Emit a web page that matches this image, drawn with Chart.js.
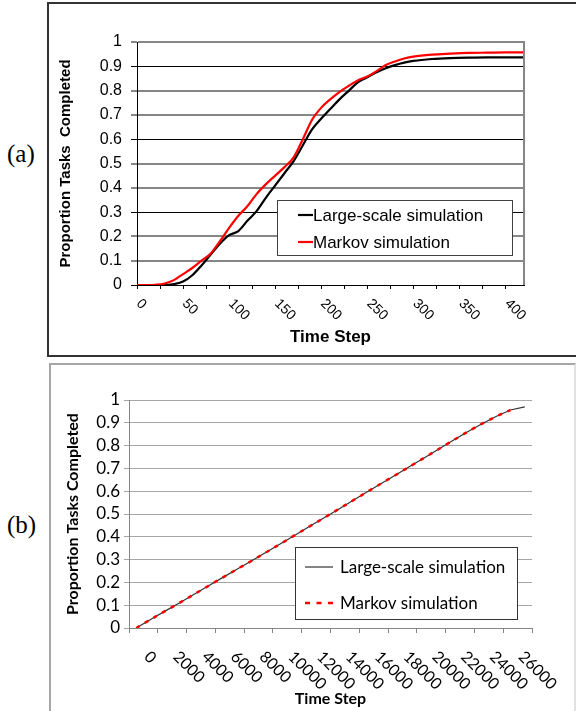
<!DOCTYPE html>
<html>
<head>
<meta charset="utf-8">
<script src="https://cdn.jsdelivr.net/npm/chart.js@4.4.1/dist/chart.umd.min.js"></script>
<style>
  html, body { margin: 0; padding: 0; background: #fff; }
  body { width: 576px; height: 711px; position: relative; overflow: hidden; }
  .frame { position: absolute; box-sizing: border-box; }
  #frameA { left: 47px; top: 2px; width: 560px; height: 355px; border: 2px solid #333; }
  #frameB { left: 49px; top: 363px; width: 527px; height: 400px; border: 2px solid #a6a6a6; border-right-color: #e2e2e2; }
  canvas { position: absolute; }
  #chartA { left: 50px; top: 5px; }
  #chartB { left: 51px; top: 365px; }
  .tag { position: absolute; left: 7px; font: 25px "Liberation Serif", "Times New Roman", serif; line-height: 25px; }
</style>
</head>
<body>
<div class="frame" id="frameA"></div>
<div class="frame" id="frameB"></div>
<div class="tag" style="top:141px">(a)</div>
<div class="tag" style="top:512px">(b)</div>
<canvas id="chartA" width="524" height="349"></canvas>
<canvas id="chartB" width="524" height="346"></canvas>
<script>
// Painel (a): passos de tempo e proporção de tarefas concluídas
const aSteps = [0, 10, 20, 30, 40, 50, 60, 70, 80, 90, 100, 110, 120, 130, 140, 150, 160, 170, 180, 190,
  200, 210, 220, 230, 240, 250, 260, 270, 280, 290, 300, 320, 340, 360, 380, 400, 420];
const aLarge = [0, 0, 0, 0, 0.004, 0.014, 0.04, 0.08, 0.125, 0.17, 0.205, 0.222, 0.265, 0.305, 0.36, 0.41, 0.46, 0.51, 0.575, 0.64,
  0.685, 0.725, 0.765, 0.80, 0.835, 0.855, 0.875, 0.892, 0.905, 0.915, 0.922, 0.93, 0.934, 0.936, 0.937, 0.937, 0.937];
const aMarkov = [0, 0, 0.001, 0.006, 0.02, 0.045, 0.07, 0.10, 0.13, 0.18, 0.235, 0.285, 0.325, 0.375, 0.415, 0.45, 0.485, 0.525, 0.60, 0.68,
  0.73, 0.765, 0.795, 0.82, 0.843, 0.858, 0.88, 0.905, 0.92, 0.932, 0.94, 0.948, 0.952, 0.955, 0.956, 0.957, 0.957];
const aTickLabels = [0, 50, 100, 150, 200, 250, 300, 350, 400];
const aTickMarks = [0, 25, 50, 75, 100, 125, 150, 175, 200, 225, 250, 275, 300, 325, 350, 375, 400];

// Painel (b): escala grande
const bSteps = [0, 1000, 2000, 3000, 4000, 5000, 6000, 7000, 8000, 9000, 10000, 11000, 12000, 13000,
  14000, 15000, 16000, 17000, 18000, 19000, 20000, 21000, 22000, 23000, 24000, 25000, 26000, 27000];
const bLarge = [0, 0.037, 0.074, 0.110, 0.147, 0.184, 0.221, 0.258, 0.294, 0.331, 0.368, 0.406, 0.444, 0.481,
  0.519, 0.557, 0.595, 0.633, 0.670, 0.708, 0.746, 0.784, 0.822, 0.860, 0.895, 0.928, 0.956, 0.970];
const bMarkov = [0, 0.037, 0.074, 0.110, 0.147, 0.184, 0.221, 0.258, 0.294, 0.331, 0.368, 0.406, 0.444, 0.481,
  0.519, 0.557, 0.595, 0.633, 0.670, 0.708, 0.746, 0.784, 0.822, 0.860, 0.895, 0.928, 0.956, null];
const bTickLabels = [0, 2000, 4000, 6000, 8000, 10000, 12000, 14000, 16000, 18000, 20000, 22000, 24000, 26000];
const bTickMarks = [-500, 1500, 3500, 5500, 7500, 9500, 11500, 13500, 15500, 17500, 19500, 21500, 23500, 25500, 27500];

// Eixo y comum aos dois painéis
const yTicks = [0, 0.1, 0.2, 0.3, 0.4, 0.5, 0.6, 0.7, 0.8, 0.9, 1];
const seriesNames = ['Large-scale simulation', 'Markov simulation'];

const ARIAL = '"Liberation Sans", Arial, sans-serif';
const CALIBRI = 'Lato, "Open Sans", sans-serif';

Chart.defaults.color = '#000';

function pts(xs, ys) {
  return xs.map((x, i) => ({ x: x, y: ys[i] }));
}

// Rótulos do eixo x inclinados 45° para baixo (como no Excel)
const slantTicks = {
  id: 'slantTicks',
  afterDraw(chart, args, opts) {
    const ctx = chart.ctx;
    const scale = chart.scales.x;
    ctx.save();
    ctx.font = opts.font;
    ctx.fillStyle = '#000';
    ctx.textAlign = 'left';
    ctx.textBaseline = 'middle';
    opts.values.forEach(v => {
      const px = scale.getPixelForValue(v);
      ctx.save();
      ctx.translate(px + opts.dx, scale.top + opts.dy);
      ctx.rotate(Math.PI / 4);
      ctx.fillText(String(v), 0, 0);
      ctx.restore();
    });
    ctx.restore();
  }
};

// Legenda em caixa dentro da área do gráfico
const boxLegend = {
  id: 'boxLegend',
  afterDatasetsDraw(chart, args, opts) {
    const ctx = chart.ctx;
    const area = chart.chartArea;
    const x = area.left + opts.x, y = area.top + opts.y;
    ctx.save();
    ctx.fillStyle = '#fff';
    ctx.fillRect(x, y, opts.w, opts.h);
    ctx.strokeStyle = opts.border;
    ctx.lineWidth = 1;
    ctx.strokeRect(x + 0.5, y + 0.5, opts.w - 1, opts.h - 1);
    ctx.font = opts.font;
    ctx.textBaseline = 'middle';
    ctx.textAlign = 'left';
    chart.data.datasets.forEach((ds, i) => {
      const ry = y + opts.rows[i];
      ctx.beginPath();
      ctx.strokeStyle = ds.borderColor;
      ctx.lineWidth = ds.borderWidth;
      ctx.setLineDash(opts.dash[i]);
      ctx.moveTo(x + opts.sample[0], ry);
      ctx.lineTo(x + opts.sample[1], ry);
      ctx.stroke();
      ctx.setLineDash([]);
      ctx.fillStyle = '#000';
      ctx.fillText(ds.label, x + opts.textX, ry + 1);
    });
    ctx.restore();
  }
};

// Borda direita da área de plotagem
const plotEdge = {
  id: 'plotEdge',
  afterDraw(chart, args, opts) {
    const ctx = chart.ctx;
    const a = chart.chartArea;
    ctx.save();
    ctx.strokeStyle = opts.color;
    ctx.lineWidth = opts.width;
    ctx.beginPath();
    ctx.moveTo(a.right, a.top - 1);
    ctx.lineTo(a.right, a.bottom);
    ctx.stroke();
    ctx.restore();
  }
};

// ---------- Gráfico (a) ----------
new Chart(document.getElementById('chartA'), {
  type: 'line',
  data: {
    datasets: [
      { label: seriesNames[0], data: pts(aSteps, aLarge), borderColor: '#000', borderWidth: 2.2,
        pointRadius: 0, cubicInterpolationMode: 'monotone', order: 2 },
      { label: seriesNames[1], data: pts(aSteps, aMarkov), borderColor: '#ff0000', borderWidth: 2.2,
        pointRadius: 0, cubicInterpolationMode: 'monotone', order: 1 }
    ]
  },
  options: {
    responsive: false,
    animation: false,
    devicePixelRatio: 1,
    layout: { padding: { left: 0, top: 37, right: 50, bottom: 0 } },
    plugins: {
      legend: { display: false },
      tooltip: { enabled: false },
      slantTicks: { values: aTickLabels, font: '14px ' + ARIAL, dx: 1.5, dy: 16.5 },
      boxLegend: { x: 140, y: 158, w: 236, h: 56, rows: [15, 42], sample: [21, 36], textX: 36,
        dash: [[], []], font: '17px ' + ARIAL, border: '#404040' },
      plotEdge: { color: '#868686', width: 2 }
    },
    scales: {
      x: {
        type: 'linear', min: 0, max: 420,
        afterBuildTicks: s => { s.ticks = aTickMarks.map(v => ({ value: v })); },
        afterFit: s => { s.height = 69; },
        grid: { drawOnChartArea: false, color: '#000', tickLength: 4 },
        border: { color: '#000', width: 1, dash: [1, 1] },
        ticks: { display: false, autoSkip: false },
        title: { display: true, text: 'Time Step', font: { family: ARIAL, size: 17, weight: 'bold' },
          padding: { top: 0, bottom: 6 } }
      },
      y: {
        type: 'linear', min: 0, max: 1,
        afterBuildTicks: s => { s.ticks = yTicks.map(v => ({ value: v })); },
        afterFit: s => { s.width = 87; },
        grid: {
          color: c => (c.index === 0 ? 'rgba(0,0,0,0)' : (c.index % 3 === 0 ? '#000' : '#868686')),
          tickColor: c => (c.index % 3 === 0 ? '#000' : '#868686'),
          lineWidth: c => (c.index % 3 === 0 ? 1 : 2),
          tickLength: 6
        },
        border: { color: '#000', width: 1 },
        ticks: { autoSkip: false, padding: 9, font: { family: ARIAL, size: 16 }, callback: v => String(v) },
        title: { display: true, text: 'Proportion Tasks  Completed',
          font: { family: ARIAL, size: 15, weight: 'bold' }, padding: { top: 7, bottom: 0 } }
      }
    }
  },
  plugins: [slantTicks, boxLegend, plotEdge]
});

// ---------- Gráfico (b) ----------
new Chart(document.getElementById('chartB'), {
  type: 'line',
  data: {
    datasets: [
      { label: seriesNames[0], data: pts(bSteps, bLarge), borderColor: '#333', borderWidth: 1.2,
        pointRadius: 0, tension: 0, order: 2 },
      { label: seriesNames[1], data: pts(bSteps, bMarkov), borderColor: '#ff0000', borderWidth: 2.5,
        borderDash: [4, 6], pointRadius: 0, tension: 0, order: 1 }
    ]
  },
  options: {
    responsive: false,
    animation: false,
    devicePixelRatio: 1,
    layout: { padding: { left: 0, top: 35, right: 43, bottom: 0 } },
    plugins: {
      legend: { display: false },
      tooltip: { enabled: false },
      slantTicks: { values: bTickLabels, font: '16px ' + CALIBRI, dx: 10.8, dy: 26 },
      boxLegend: { x: 166, y: 147, w: 223, h: 73, rows: [20, 56], sample: [10, 38], textX: 45,
        dash: [[], [5, 6.5]], font: '17px ' + CALIBRI, border: '#333' }
    },
    scales: {
      x: {
        type: 'linear', min: -500, max: 27500,
        afterBuildTicks: s => { s.ticks = bTickMarks.map(v => ({ value: v })); },
        afterFit: s => { s.height = 83; },
        grid: { drawOnChartArea: false, color: '#868686', tickLength: 5 },
        border: { color: '#868686', width: 1 },
        ticks: { display: false, autoSkip: false },
        title: { display: true, text: 'Time Step', font: { family: CALIBRI, size: 16, weight: 'bold' },
          padding: { top: 0, bottom: 3 } }
      },
      y: {
        type: 'linear', min: 0, max: 1,
        afterBuildTicks: s => { s.ticks = yTicks.map(v => ({ value: v })); },
        afterFit: s => { s.width = 78; },
        grid: { color: '#a6a6a6', lineWidth: 1, tickLength: 5 },
        border: { color: '#868686', width: 1 },
        ticks: { autoSkip: false, padding: 4, font: { family: CALIBRI, size: 17 }, callback: v => String(v) },
        title: { display: true, text: 'Proportion Tasks Completed',
          font: { family: CALIBRI, size: 16, weight: 'bold' }, padding: { top: 12, bottom: 0 } }
      }
    }
  },
  plugins: [slantTicks, boxLegend]
});
</script>
</body>
</html>
